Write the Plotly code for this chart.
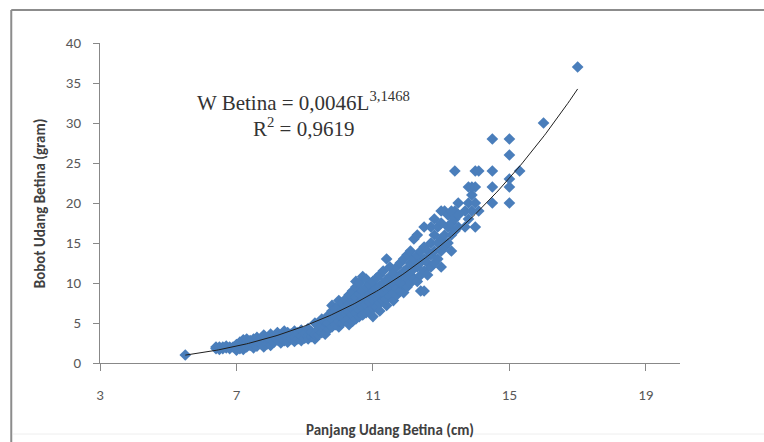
import numpy as np
import plotly.graph_objects as go

# Panjang (cm) and Bobot (gram)
lengths = [
    5.5,
    6.4, 6.4, 6.5, 6.5, 6.6, 6.6, 6.7, 6.7, 6.8, 6.8, 6.9,
    7.0, 7.0, 7.0, 7.1, 7.1, 7.1, 7.2, 7.2, 7.2, 7.3, 7.3, 7.3,
    7.4, 7.4, 7.5, 7.5, 7.5, 7.6, 7.6, 7.6, 7.7, 7.7, 7.8, 7.8, 7.8,
    7.9, 7.9, 8.0, 8.0, 8.0, 8.1, 8.1, 8.2, 8.2, 8.3, 8.3,
    8.4, 8.4, 8.4, 8.5, 8.5, 8.5, 8.6, 8.6, 8.7, 8.7, 8.7, 8.8, 8.8,
    8.9, 8.9, 8.9, 9.0, 9.0, 9.1, 9.1, 9.1, 9.2, 9.2, 9.3, 9.3, 9.3,
    9.4, 9.4, 9.5, 9.5, 9.5, 9.6, 9.6, 9.6, 9.7, 9.7, 9.7,
    9.8, 9.8, 9.8, 9.8, 9.9, 9.9, 9.9,
    10.0, 10.0, 10.0, 10.0, 10.0, 10.1, 10.1, 10.1, 10.1,
    10.2, 10.2, 10.2, 10.2, 10.3, 10.3, 10.3, 10.3, 10.3,
    10.4, 10.4, 10.4, 10.4, 10.4, 10.5, 10.5, 10.5, 10.5, 10.5, 10.5,
    10.6, 10.6, 10.6, 10.6, 10.6, 10.7, 10.7, 10.7, 10.7, 10.7,
    10.8, 10.8, 10.8, 10.8, 10.8, 10.9, 10.9, 10.9, 10.9,
    11.0, 11.0, 11.0, 11.0, 11.0, 11.1, 11.1, 11.1, 11.1,
    11.2, 11.2, 11.2, 11.2, 11.2, 11.3, 11.3, 11.3, 11.3,
    11.4, 11.4, 11.4, 11.4, 11.4, 11.5, 11.5, 11.5, 11.5,
    11.6, 11.6, 11.6, 11.6, 11.7, 11.7, 11.7, 11.7,
    11.8, 11.8, 11.8, 11.8, 11.9, 11.9, 11.9, 11.9,
    12.0, 12.0, 12.0, 12.0, 12.1, 12.1, 12.1, 12.1,
    12.2, 12.2, 12.2, 12.2, 12.3, 12.3, 12.3, 12.3,
    12.4, 12.4, 12.4, 12.4, 12.5, 12.5, 12.5, 12.5, 12.5,
    12.6, 12.6, 12.6, 12.7, 12.7, 12.7, 12.7,
    12.8, 12.8, 12.8, 12.8, 12.9, 12.9, 12.9,
    13.0, 13.0, 13.0, 13.0, 13.0, 13.1, 13.1, 13.1,
    13.2, 13.2, 13.2, 13.3, 13.3, 13.3, 13.3,
    13.4, 13.4, 13.4, 13.4, 13.5, 13.5, 13.5,
    13.7, 13.7, 13.8, 13.8, 13.8, 13.9, 13.9, 13.9,
    14.0, 14.0, 14.0, 14.0, 14.1, 14.1,
    14.5, 14.5, 14.5, 14.5, 15.0, 15.0, 15.0, 15.0, 15.0,
    15.3, 16.0, 17.0,
]
weights = [
    1.0,
    1.8, 2.0, 1.7, 2.0, 1.8, 2.0, 1.9, 2.1, 1.8, 2.0, 2.0,
    1.6, 2.0, 2.3, 1.8, 2.2, 2.6, 1.7, 2.4, 2.9, 2.0, 2.5, 3.0,
    2.2, 2.8, 1.9, 2.5, 3.0, 2.1, 2.7, 3.2, 2.5, 3.0, 2.0, 2.8, 3.5,
    2.4, 3.1, 2.2, 3.0, 3.6, 2.6, 3.3, 2.9, 3.8, 2.5, 3.2,
    2.8, 3.5, 4.0, 2.6, 3.2, 3.8, 3.0, 3.6, 2.7, 3.3, 4.0, 3.0, 3.8,
    2.8, 3.4, 4.1, 3.1, 3.7, 3.0, 3.5, 4.3, 3.3, 3.9, 3.0, 3.6, 5.0,
    3.5, 4.2, 3.8, 4.6, 5.5, 3.6, 4.5, 5.2, 4.2, 5.0, 6.0,
    4.5, 5.5, 6.5, 7.2, 4.8, 5.8, 6.8,
    4.5, 5.2, 6.0, 7.0, 7.8, 5.0, 5.8, 6.6, 7.5,
    5.3, 6.2, 7.0, 8.0, 4.8, 5.6, 6.4, 7.3, 8.5,
    5.2, 6.0, 6.8, 7.8, 9.0, 5.5, 6.3, 7.2, 8.2, 9.5, 10.2,
    5.8, 6.6, 7.5, 8.6, 10.0, 6.0, 7.0, 7.9, 9.0, 10.8,
    6.3, 7.3, 8.3, 9.5, 10.5, 6.5, 7.6, 8.6, 9.8,
    5.8, 6.8, 7.9, 9.0, 10.2, 7.0, 8.2, 9.3, 10.6,
    6.5, 7.5, 8.5, 9.6, 11.0, 7.8, 8.8, 10.0, 11.5,
    7.2, 8.0, 9.2, 10.4, 13.0, 8.3, 9.5, 10.8, 12.0,
    7.8, 8.8, 10.0, 11.2, 8.5, 9.3, 10.5, 12.0,
    9.0, 10.0, 11.0, 12.5, 8.8, 9.8, 11.4, 13.0,
    9.5, 10.5, 11.8, 13.5, 10.0, 11.0, 12.5, 14.0,
    10.5, 11.8, 13.0, 15.5, 10.2, 12.0, 13.5, 16.0,
    9.0, 11.0, 12.6, 14.0, 9.0, 11.5, 13.0, 14.5, 17.0,
    11.0, 12.5, 14.0, 12.0, 13.5, 15.0, 17.0,
    12.5, 14.0, 16.0, 18.0, 13.0, 15.0, 17.0,
    12.0, 14.0, 15.5, 17.5, 19.0, 14.5, 16.0, 19.0,
    15.0, 17.0, 18.5, 14.0, 16.0, 17.5, 19.0,
    16.5, 18.0, 19.0, 24.0, 17.0, 18.5, 20.0,
    17.0, 19.0, 18.0, 20.0, 22.0, 19.0, 21.0, 22.0,
    17.0, 20.0, 22.0, 24.0, 19.0, 24.0,
    20.0, 22.0, 24.0, 28.0, 20.0, 22.0, 23.0, 26.0, 28.0,
    24.0, 30.0, 37.0,
]

# Power trendline shown on the chart: W = a * L^b
fit_a = 0.0046
fit_b = 3.1468
r_squared = "0,9619"

x_ticks = [3, 7, 11, 15, 19]
y_ticks = [0, 5, 10, 15, 20, 25, 30, 35, 40]
x_title = "Panjang Udang Betina (cm)"
y_title = "Bobot Udang Betina (gram)"

trend_x = np.linspace(min(lengths), max(lengths), 200)
trend_y = fit_a * trend_x ** fit_b

font_family = "Carlito, Lato, 'Open Sans', sans-serif"
serif = "'Liberation Serif', 'Times New Roman', serif"

fig = go.Figure()
fig.add_trace(go.Scatter(
    x=lengths, y=weights, mode="markers",
    marker=dict(symbol="diamond", size=9, color="#4A7EBB", line=dict(width=0)),
    showlegend=False, hoverinfo="x+y",
))
fig.add_trace(go.Scatter(
    x=trend_x, y=trend_y, mode="lines",
    line=dict(color="#1f1f1f", width=1),
    showlegend=False, hoverinfo="skip",
))

fig.update_layout(
    width=764, height=442,
    margin=dict(l=100, r=84, t=43, b=79, autoexpand=False),
    paper_bgcolor="white", plot_bgcolor="white",
    font=dict(family=font_family, color="#595959"),
    xaxis=dict(
        range=[3, 20], tickvals=x_ticks, ticktext=[str(v) for v in x_ticks],
        showgrid=False, zeroline=False, showline=True, linecolor="#888888", linewidth=1,
        ticks="outside", ticklen=7, tickcolor="#888888",
        tickfont=dict(size=15, color="#595959"), ticklabelstandoff=11,
    ),
    yaxis=dict(
        range=[0, 40], tickvals=y_ticks, ticktext=[str(v) for v in y_ticks],
        showgrid=False, zeroline=False, showline=True, linecolor="#888888", linewidth=1,
        ticks="outside", ticklen=6, tickcolor="#888888",
        tickfont=dict(size=15, color="#595959"), ticklabelstandoff=9,
    ),
    shapes=[
        dict(type="line", xref="paper", yref="paper", x0=-0.153, x1=1.145, y0=1.103, y1=1.103,
             line=dict(color="#8c8c8c", width=2), layer="below"),
        dict(type="line", xref="paper", yref="paper", x0=-0.153, x1=-0.153, y0=-0.25, y1=1.103,
             line=dict(color="#8c8c8c", width=2), layer="below"),
        dict(type="line", xref="paper", yref="paper", x0=-0.15, x1=1.145, y0=-0.222, y1=-0.222,
             line=dict(color="#eeeeee", width=1), layer="below"),
    ],
    annotations=[
        dict(xref="paper", yref="paper", x=0.5, y=-0.209, xanchor="center", yanchor="middle",
             showarrow=False, text="<b>" + x_title + "</b>",
             font=dict(family=font_family, size=15, color="#404040")),
        dict(xref="paper", yref="paper", x=-0.103, y=0.5, xanchor="center", yanchor="middle",
             showarrow=False, textangle=-90, text="<b>" + y_title + "</b>",
             font=dict(family=font_family, size=15, color="#404040")),
        dict(xref="paper", yref="paper", x=0.35, y=0.817, xanchor="center", yanchor="middle",
             showarrow=False, text="W Betina = 0,0046L<sup>3,1468</sup>",
             font=dict(family=serif, size=21, color="#333333")),
        dict(xref="paper", yref="paper", x=0.35, y=0.735, xanchor="center", yanchor="middle",
             showarrow=False, text="R<sup>2</sup> = " + r_squared,
             font=dict(family=serif, size=21, color="#333333")),
    ],
)

fig.write_html("out.html", config={"displayModeBar": False},
               post_script="document.body.style.margin='0';document.body.style.overflow='hidden';")
